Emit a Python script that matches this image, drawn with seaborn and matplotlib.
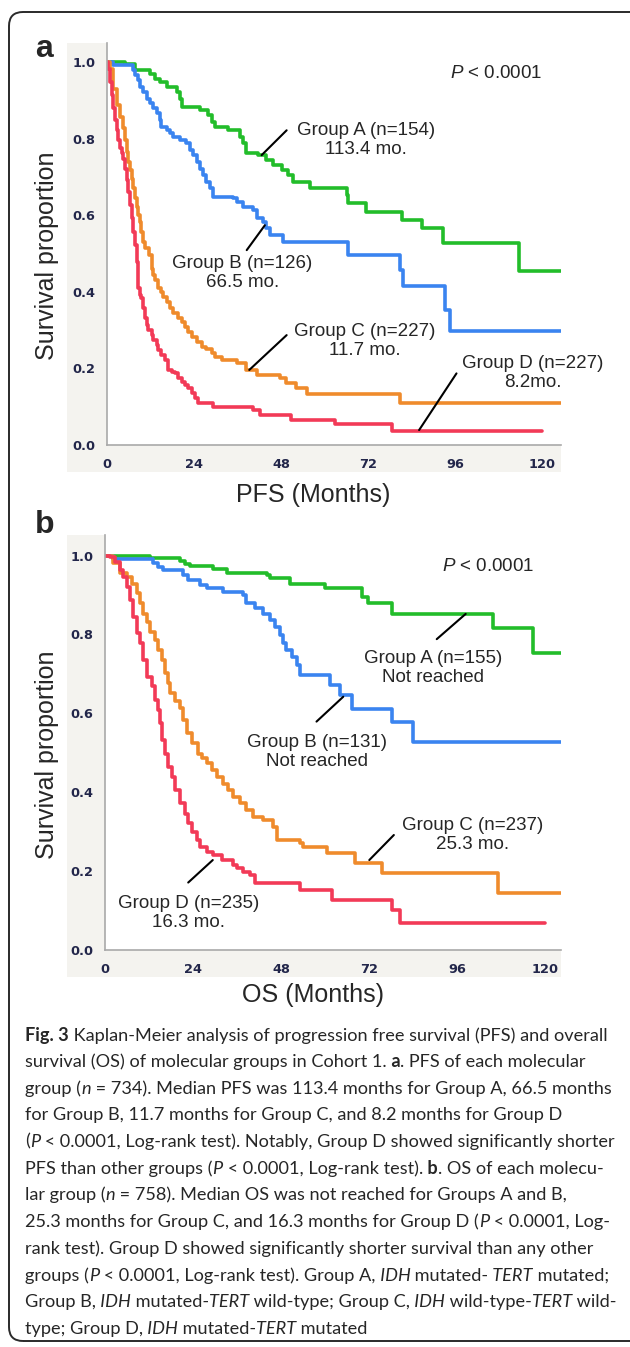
import pandas as pd
import matplotlib
matplotlib.use("Agg")
import matplotlib.pyplot as plt
import seaborn as sns
from matplotlib.patches import Rectangle, FancyBboxPatch
from matplotlib.transforms import IdentityTransform
from matplotlib.text import Annotation
from matplotlib.ticker import MultipleLocator

# ---- data (months, survival proportion) ----
groups = ["Group A", "Group B", "Group C", "Group D"]
colors = ["#22bd2a", "#3a84f0", "#ef8b2c", "#f23a57"]

pfs_a_t = [0, 4.95, 7.7, 11.8, 13.2, 14.6, 16.4, 19.2, 20.1, 20.6, 25.6, 27.9, 28.8, 29.7, 33.4, 36.6, 37.5,
           38.4, 41.7, 43.9, 45.8, 48.1, 49.9, 51.3, 55.9, 66.0, 66.5, 71.5, 81.2, 86.7, 92.7, 113.4, 126]
pfs_a_s = [1.0, 0.996, 0.979, 0.970, 0.957, 0.949, 0.936, 0.922, 0.905, 0.883, 0.875, 0.862, 0.844, 0.831, 0.822,
           0.805, 0.788, 0.762, 0.757, 0.744, 0.731, 0.718, 0.705, 0.688, 0.670, 0.653, 0.631, 0.609, 0.587, 0.566,
           0.527, 0.455, 0.455]

pfs_b_t = [0, 1.7, 7.2, 7.7, 8.6, 9.1, 10.0, 10.9, 11.8, 12.7, 13.7, 14.6, 15.0, 16.4, 17.3, 18.3, 20.1, 21.9,
           22.8, 23.8, 24.7, 25.6, 26.5, 27.4, 28.3, 29.3, 34.8, 35.7, 37.5, 40.3, 41.2, 43.0, 43.9, 44.9, 48.5,
           66.5, 80.7, 81.6, 93.1, 94.5, 126]
pfs_b_s = [1.0, 0.992, 0.979, 0.966, 0.953, 0.936, 0.923, 0.905, 0.892, 0.879, 0.866, 0.849, 0.831, 0.823, 0.814,
           0.805, 0.796, 0.788, 0.770, 0.757, 0.740, 0.722, 0.705, 0.688, 0.670, 0.648, 0.644, 0.635, 0.622, 0.614,
           0.592, 0.583, 0.566, 0.548, 0.531, 0.496, 0.457, 0.414, 0.352, 0.297, 0.297]

pfs_c_t = [0, 0.8, 1.7, 2.7, 3.6, 4.5, 5.0, 5.4, 5.9, 6.3, 6.8, 7.2, 7.7, 8.2, 8.6, 9.1, 9.5, 10.0, 10.5, 11.7,
           12.3, 12.8, 13.2, 14.1, 15.0, 15.5, 16.4, 17.3, 18.3, 19.6, 20.6, 21.5, 22.4, 23.3, 24.7, 26.1, 27.4,
           28.8, 29.7, 31.6, 35.7, 38.4, 41.2, 47.6, 49.4, 52.2, 55.0, 80.7, 126]
pfs_c_s = [1.0, 0.983, 0.931, 0.888, 0.857, 0.827, 0.796, 0.766, 0.740, 0.718, 0.696, 0.670, 0.644, 0.622, 0.601,
           0.583, 0.557, 0.531, 0.514, 0.496, 0.461, 0.444, 0.431, 0.409, 0.400, 0.387, 0.374, 0.357, 0.344, 0.331,
           0.322, 0.309, 0.296, 0.283, 0.270, 0.257, 0.252, 0.239, 0.231, 0.222, 0.213, 0.196, 0.183, 0.174, 0.161,
           0.148, 0.132, 0.109, 0.109]

pfs_d_t = [0, 0.4, 0.8, 1.3, 1.7, 2.2, 2.7, 3.1, 3.6, 4.0, 4.5, 5.0, 5.4, 5.9, 6.3, 6.8, 7.2, 7.7, 8.2, 8.6, 9.1,
           9.5, 10.0, 10.5, 10.9, 11.4, 12.3, 12.8, 13.7, 14.1, 15.0, 16.0, 16.9, 17.8, 18.7, 19.6, 20.6, 21.5,
           22.4, 23.3, 24.2, 25.1, 29.3, 40.3, 42.1, 50.8, 62.8, 78.4, 120]
pfs_d_s = [1.0, 0.983, 0.949, 0.914, 0.879, 0.849, 0.822, 0.796, 0.775, 0.762, 0.748, 0.722, 0.692, 0.661, 0.627,
           0.592, 0.557, 0.522, 0.479, 0.409, 0.392, 0.383, 0.357, 0.331, 0.313, 0.300, 0.287, 0.274, 0.261, 0.248,
           0.235, 0.222, 0.196, 0.191, 0.187, 0.174, 0.165, 0.157, 0.148, 0.135, 0.122, 0.109, 0.100, 0.091, 0.078,
           0.065, 0.054, 0.037, 0.037]

os_a_t = [0, 12.3, 20.4, 21.8, 23.2, 29.5, 33.2, 44.1, 45.0, 50.5, 60.0, 70.0, 71.8, 78.2, 105.9, 116.8, 126]
os_a_s = [1.0, 0.993, 0.987, 0.979, 0.974, 0.966, 0.956, 0.951, 0.942, 0.929, 0.917, 0.896, 0.879, 0.853, 0.815,
          0.752, 0.752]

os_b_t = [0, 2.3, 13.2, 14.5, 15.9, 21.4, 22.7, 25.9, 27.7, 32.3, 37.7, 38.6, 40.9, 43.2, 45.0, 46.4, 47.7, 48.6,
          49.5, 50.9, 52.3, 53.2, 61.4, 64.1, 67.3, 78.2, 84.1, 126]
os_b_s = [1.0, 0.992, 0.981, 0.972, 0.963, 0.951, 0.938, 0.925, 0.917, 0.908, 0.900, 0.879, 0.866, 0.853, 0.836,
          0.820, 0.798, 0.777, 0.760, 0.744, 0.722, 0.697, 0.672, 0.646, 0.612, 0.579, 0.528, 0.528]

os_c_t = [0, 2.3, 4.1, 5.9, 7.3, 8.6, 9.5, 10.5, 11.4, 12.3, 13.6, 14.5, 15.5, 16.4, 17.3, 17.7, 19.1, 20.5, 21.4,
          22.3, 23.6, 25.3, 26.4, 27.7, 29.1, 30.5, 32.3, 33.6, 35.0, 36.8, 38.6, 40.5, 43.2, 45.9, 46.8, 53.2,
          54.1, 60.5, 68.2, 75.5, 107.3, 126]
os_c_s = [1.0, 0.980, 0.955, 0.946, 0.929, 0.904, 0.879, 0.853, 0.832, 0.807, 0.786, 0.760, 0.735, 0.701, 0.676,
          0.651, 0.630, 0.613, 0.583, 0.549, 0.524, 0.498, 0.486, 0.473, 0.456, 0.439, 0.422, 0.406, 0.389, 0.372,
          0.355, 0.338, 0.330, 0.313, 0.279, 0.270, 0.262, 0.245, 0.220, 0.194, 0.145, 0.145]

os_d_t = [0, 1.4, 2.7, 4.1, 5.0, 5.9, 6.8, 7.7, 8.6, 9.5, 10.5, 11.4, 12.7, 13.6, 14.5, 15.0, 15.5, 16.3, 17.3,
          18.2, 19.1, 20.5, 21.8, 22.7, 23.6, 25.0, 25.9, 27.7, 29.5, 31.8, 35.0, 35.9, 37.7, 39.5, 40.9, 53.2,
          61.8, 78.2, 80.5, 120]
os_d_s = [1.0, 0.997, 0.984, 0.963, 0.946, 0.921, 0.887, 0.845, 0.803, 0.777, 0.735, 0.693, 0.668, 0.634, 0.608,
          0.575, 0.532, 0.498, 0.465, 0.439, 0.406, 0.372, 0.346, 0.321, 0.300, 0.279, 0.262, 0.249, 0.241, 0.228,
          0.215, 0.207, 0.198, 0.190, 0.169, 0.152, 0.128, 0.102, 0.068, 0.068]

x_ticks = [0, 24, 48, 72, 96, 120]
x_labels = ["0", "24", "48", "72", "96", "120"]
y_ticks = [0.0, 0.2, 0.4, 0.6, 0.8, 1.0]
y_labels = ["0.0", "0.2", "0.4", "0.6", "0.8", "1.0"]

pfs_notes = ["Group A (n=154)\n113.4 mo.", "Group B (n=126)\n66.5 mo.",
             "Group C (n=227)\n11.7 mo.", "Group D (n=227)\n8.2mo."]
os_notes = ["Group A (n=155)\nNot reached", "Group B (n=131)\nNot reached",
            "Group C (n=237)\n25.3 mo.", "Group D (n=235)\n16.3 mo."]
p_text = "$P$ < 0.0001"

caption_lines = [
    [("Fig. 3", "b"), (" Kaplan-Meier analysis of progression free survival (PFS) and overall", "r")],
    [("survival (OS) of molecular groups in Cohort 1.", "r"), (" a", "b"), (". PFS of each molecular", "r")],
    [("group (", "r"), ("n", "i"), (" = 734). Median PFS was 113.4 months for Group A, 66.5 months", "r")],
    [("for Group B, 11.7 months for Group C, and 8.2 months for Group D", "r")],
    [("(", "r"), ("P", "i"), (" < 0.0001, Log-rank test). Notably, Group D showed significantly shorter", "r")],
    [("PFS than other groups (", "r"), ("P", "i"), (" < 0.0001, Log-rank test).", "r"), (" b", "b"),
     (". OS of each molecu-", "r")],
    [("lar group (", "r"), ("n", "i"), (" = 758). Median OS was not reached for Groups A and B,", "r")],
    [("25.3 months for Group C, and 16.3 months for Group D (", "r"), ("P", "i"), (" < 0.0001, Log-", "r")],
    [("rank test). Group D showed significantly shorter survival than any other", "r")],
    [("groups (", "r"), ("P", "i"), (" < 0.0001, Log-rank test). Group A,", "r"), (" IDH", "i"),
     (" mutated-", "r"), (" TERT", "i"), (" mutated;", "r")],
    [("Group B,", "r"), (" IDH", "i"), (" mutated-", "r"), ("TERT", "i"), (" wild-type; Group C,", "r"),
     (" IDH", "i"), (" wild-type-", "r"), ("TERT", "i"), (" wild-", "r")],
    [("type; Group D,", "r"), (" IDH", "i"), (" mutated-", "r"), ("TERT", "i"), (" mutated", "r")],
]


def km_frame(series):
    parts = []
    for name, t, s in zip(groups, series[0::2], series[1::2]):
        parts.append(pd.DataFrame({"time": t, "surv": s, "group": name}))
    return pd.concat(parts, ignore_index=True)


pfs_df = km_frame([pfs_a_t, pfs_a_s, pfs_b_t, pfs_b_s, pfs_c_t, pfs_c_s, pfs_d_t, pfs_d_s])
os_df = km_frame([os_a_t, os_a_s, os_b_t, os_b_s, os_c_t, os_c_s, os_d_t, os_d_s])

sns.set_style("white")
plt.rcParams["font.family"] = ["Liberation Sans", "DejaVu Sans"]
plt.rcParams["mathtext.fontset"] = "custom"
plt.rcParams["mathtext.it"] = "Liberation Sans:italic"
plt.rcParams["mathtext.rm"] = "Liberation Sans"

W, H = 630, 1347
fig = plt.figure(figsize=(W / 100, H / 100), dpi=100)
fig.patch.set_facecolor("white")

# rounded frame around the whole figure (pixel coords, origin bottom-left)
frame = FancyBboxPatch((9, H - 1341), 660, 1329, boxstyle="round,pad=0,rounding_size=14",
                       transform=IdentityTransform(), fill=False, edgecolor="#2a2a2a", linewidth=1.4, zorder=5)
fig.add_artist(frame)

grey = "#a9a9a9"
beige = "#f4f3ef"


def setup_panel(ax, df, xmax, ymax, xlabel, label_xy, ylabel_xy):
    sns.lineplot(data=df, x="time", y="surv", hue="group", hue_order=groups, palette=colors,
                 estimator=None, errorbar=None, sort=False, drawstyle="steps-post",
                 linewidth=2.6, legend=False, ax=ax)
    ax.set_xlim(0, xmax)
    ax.set_ylim(0, ymax)
    ax.set_facecolor("white")
    for side in ["top", "right"]:
        ax.spines[side].set_visible(False)
    for side in ["left", "bottom"]:
        ax.spines[side].set_color(grey)
        ax.spines[side].set_linewidth(1.2)
    ax.set_xticks(x_ticks)
    ax.set_xticklabels(x_labels, fontweight="bold", family="DejaVu Sans")
    ax.set_yticks(y_ticks)
    ax.set_yticklabels(y_labels, fontweight="bold", family="DejaVu Sans")
    ax.xaxis.set_minor_locator(MultipleLocator(12))
    ax.yaxis.set_minor_locator(MultipleLocator(0.1))
    ax.tick_params(which="major", direction="out", length=6, width=1, color=grey,
                   labelsize=9.3, labelcolor="#22264a", pad=2.5)
    ax.tick_params(which="minor", direction="out", length=4, width=1, color=grey)
    ax.tick_params(axis="x", which="major", pad=3.5)
    ax.set_xlabel(xlabel, fontsize=18)
    ax.set_ylabel("Survival proportion", fontsize=18)
    ax.xaxis.set_label_coords(*label_xy)
    ax.xaxis.label.set_va("center")
    ax.yaxis.set_label_coords(*ylabel_xy)
    ax.yaxis.label.set_va("center")


def note(ax, txt, xy, line):
    ax.text(xy[0], xy[1], txt, ha="center", va="center", multialignment="center",
            fontsize=13.5, linespacing=1.15, clip_on=False, zorder=6)
    ax.plot([line[0], line[2]], [line[1], line[3]], color="black", linewidth=1.5,
            clip_on=False, zorder=6)


# ---- panel a ----
fig.add_artist(Rectangle((67, H - 472), 494, 429, transform=IdentityTransform(),
                         facecolor=beige, edgecolor="none", zorder=-1))
ax_a = fig.add_axes([107 / W, 1 - 445 / H, 454 / W, 402 / H])
setup_panel(ax_a, pfs_df, 125.1, 1.05, "PFS (Months)", (0.455, -0.124), (-0.132, 0.47))
ax_a.text(107.2, 0.971, p_text, ha="center", va="center", fontsize=13.5)
note(ax_a, pfs_notes[0], (71.3, 0.796), (49.5, 0.822, 42.6, 0.757))
note(ax_a, pfs_notes[1], (37.3, 0.449), (38.5, 0.509, 43.5, 0.574))
note(ax_a, pfs_notes[2], (71.1, 0.272), (49.5, 0.287, 39.2, 0.196))
note(ax_a, pfs_notes[3], (117.4, 0.187), (96.3, 0.187, 86.0, 0.039))

# ---- panel b ----
fig.add_artist(Rectangle((67, H - 977), 494, 442, transform=IdentityTransform(),
                         facecolor=beige, edgecolor="none", zorder=-1))
ax_b = fig.add_axes([105 / W, 1 - 950 / H, 456 / W, 415 / H])
setup_panel(ax_b, os_df, 124.4, 1.052, "OS (Months)", (0.456, -0.108), (-0.127, 0.47))
ax_b.text(104.5, 0.972, p_text, ha="center", va="center", fontsize=13.5)
note(ax_b, os_notes[0], (89.5, 0.716), (90.5, 0.788, 98.4, 0.852))
note(ax_b, os_notes[1], (57.9, 0.503), (57.7, 0.579, 65.0, 0.642))
note(ax_b, os_notes[2], (100.4, 0.2915), (78.8, 0.2915, 72.1, 0.228))
note(ax_b, os_notes[3], (22.9, 0.093), (22.7, 0.171, 29.4, 0.228))

# panel letters
fig.text(35 / W, 1 - 57 / H, "a", fontsize=23, fontweight="bold", va="baseline")
fig.text(35 / W, 1 - 533 / H, "b", fontsize=23, fontweight="bold", va="baseline")

# ---- caption, one run of styled pieces per line ----
cap_font = ["Lato", "DejaVu Sans"]
cap_fs = 13.1
styles = {"r": {}, "b": {"fontweight": "bold"}, "i": {"fontstyle": "italic"}}
for k, segs in enumerate(caption_lines):
    y = 1 - (1035 + k * 26.7) / H
    prev = fig.text(25 / W, y, segs[0][0], ha="left", va="center", fontsize=cap_fs,
                    family=cap_font, **styles[segs[0][1]])
    for txt, st in segs[1:]:
        prev = fig.add_artist(Annotation(txt, xy=(1, 0), xycoords=prev, ha="left", va="bottom",
                                         fontsize=cap_fs, family=cap_font, **styles[st]))

fig.savefig("out.png", dpi=100)
